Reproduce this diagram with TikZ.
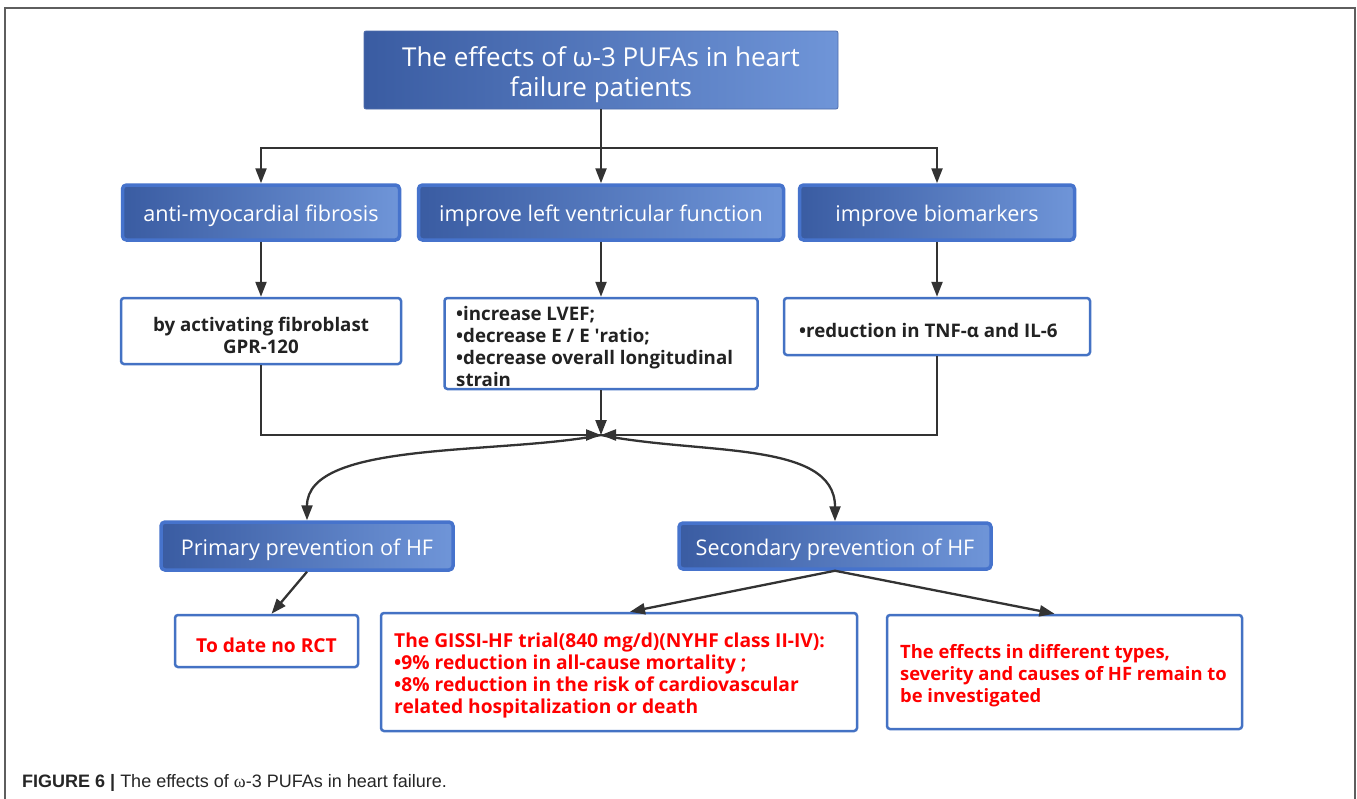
\documentclass[tikz,border=0pt]{standalone}
\usepackage{fontspec}
\setmainfont{Open Sans}
\newfontfamily\capfont{Liberation Sans}
\newfontfamily\capserif{Liberation Serif}
\usetikzlibrary{arrows.meta}
\definecolor{bdark}{HTML}{3A5CA2}
\definecolor{blight}{HTML}{6F95D8}
\definecolor{bedge}{HTML}{4673CC}
\definecolor{wedge}{HTML}{4472C4}
\definecolor{linec}{HTML}{333333}
\definecolor{framec}{HTML}{5E5E5E}
\definecolor{redt}{HTML}{FF0000}
\definecolor{darkt}{HTML}{222222}
\newcommand{\sq}{{\addfontfeature{Ligatures=TeXOff}'}}
\tikzset{
  titlebox/.style={draw=bdark!90!white, line width=0.8pt, rounded corners=2pt, left color=bdark, right color=blight, inner sep=0pt},
  titletext/.style={text=white, align=center, inner sep=0pt, font=\fontsize{26}{30}\selectfont},
  bluebox/.style={draw=bedge, line width=3.5pt, rounded corners=4pt, left color=bdark, right color=blight, inner sep=0pt},
  bluetext/.style={text=white, align=center, inner sep=0pt, font=\fontsize{21.6}{24}\selectfont},
  whitebox/.style={draw=wedge, line width=2.5pt, rounded corners=3pt, fill=white, inner sep=0pt},
  whitetext/.style={text=darkt, align=left, inner sep=0pt, font=\bfseries\fontsize{18.7}{22}\selectfont},
  redtext/.style={whitetext, text=redt, font=\bfseries\fontsize{19.2}{22}\selectfont},
  conn/.style={draw=linec, line width=2.3pt},
  arr/.style={conn, -{Triangle[width=11pt,length=15pt]}},
}
\begin{document}
\begin{tikzpicture}[x=1pt,y=-1pt]
\useasboundingbox (0,0) rectangle (1357,798);
\fill[white] (0,0) rectangle (1357,798);
\draw[framec, line width=2.5pt] (5,805) -- (5,8) -- (1355,8) -- (1355,805);

% level 1
\node[titlebox, minimum width=474pt, minimum height=78pt] (T) at (601,70) {};
\node[titletext] (Tt) at (601,75) {The effects of ω-3 PUFAs in heart\\failure patients};

% level 2
\node[bluebox, minimum width=277pt, minimum height=55pt] (A) at (261,212.5) {};
\node[bluetext] (At) at (261,216) {anti-myocardial fibrosis};
\node[bluebox, minimum width=365pt, minimum height=55pt] (B) at (601,212.5) {};
\node[bluetext] (Bt) at (601,216) {improve left ventricular function};
\node[bluebox, minimum width=275pt, minimum height=55pt] (C) at (937,212.5) {};
\node[bluetext] (Ct) at (937,216) {improve biomarkers};

% level 3
\node[whitebox, minimum width=280pt, minimum height=66pt] (a) at (261,331) {};
\node[whitetext, align=center] (at) at (261,335) {by activating fibroblast\\GPR-120};
\node[whitebox, minimum width=313pt, minimum height=91pt] (b) at (601,343.5) {};
\node[whitetext, anchor=west] (bt) at (456,346)
  {•increase LVEF;\\•decrease E / E \sq ratio;\\•decrease overall longitudinal\\strain};
\node[whitebox, minimum width=306pt, minimum height=57pt] (c) at (937,326.5) {};
\node[whitetext, anchor=west] (ct) at (799,330) {•reduction in TNF-α and IL-6};

% level 4
\node[bluebox, minimum width=292pt, minimum height=48pt] (P) at (307,546) {};
\node[bluetext] (Pt) at (307,549.5) {Primary prevention of HF};
\node[bluebox, minimum width=312pt, minimum height=46pt] (S) at (835,546) {};
\node[bluetext] (St) at (835,549.5) {Secondary prevention of HF};

% level 5
\node[whitebox, minimum width=183pt, minimum height=52pt] (R1) at (266.5,641) {};
\node[redtext, align=center] (R1t) at (266.5,645) {To date no RCT};
\node[whitebox, minimum width=476pt, minimum height=118pt] (R2) at (619,672) {};
\node[redtext, anchor=west] (R2t) at (394,676)
  {The GISSI-HF trial(840 mg/d)(NYHF class II-IV):\\•9\% reduction in all-cause mortality ;\\•8\% reduction in the risk of cardiovascular\\related hospitalization or death};
\node[whitebox, minimum width=355pt, minimum height=114pt] (R3) at (1064.5,672) {};
\node[redtext, anchor=west, font=\bfseries\fontsize{18.4}{22}\selectfont] (R3t) at (900,676)
  {The effects in different types,\\severity and causes of HF remain to\\be investigated};

% connectors
\coordinate (H) at (601,148);
\coordinate (J) at (601,435);
\draw[conn] (T.south) -- (H);
\draw[arr] (H) -- (B.north);
\draw[arr] (H) -| (A.north);
\draw[arr] (H) -| (C.north);
\draw[arr] (A.south) -- (a.north);
\draw[arr] (B.south) -- (b.north);
\draw[arr] (C.south) -- (c.north);
\draw[arr] (a.south) |- (J);
\draw[arr] (b.south) -- (J);
\draw[arr] (c.south) |- (J);
\draw[arr] (J) .. controls (500,455) and (307,440) .. (P.north);
\draw[arr] (J) .. controls (700,455) and (835,440) .. (S.north);
\draw[arr] (P.south) -- ([xshift=5pt]R1.north);
\draw[arr] (S.south) -- ([xshift=11pt]R2.north);
\draw[arr] (S.south) -- ([xshift=-10pt]R3.north);

% caption
\node[anchor=base west, inner sep=0pt, text=black!85, font=\capfont\fontsize{18}{20}\selectfont] (cap) at (22,787)
  {\textbf{FIGURE 6 |} The effects of {\capserif ω}-3 PUFAs in heart failure.};
\end{tikzpicture}
\end{document}
